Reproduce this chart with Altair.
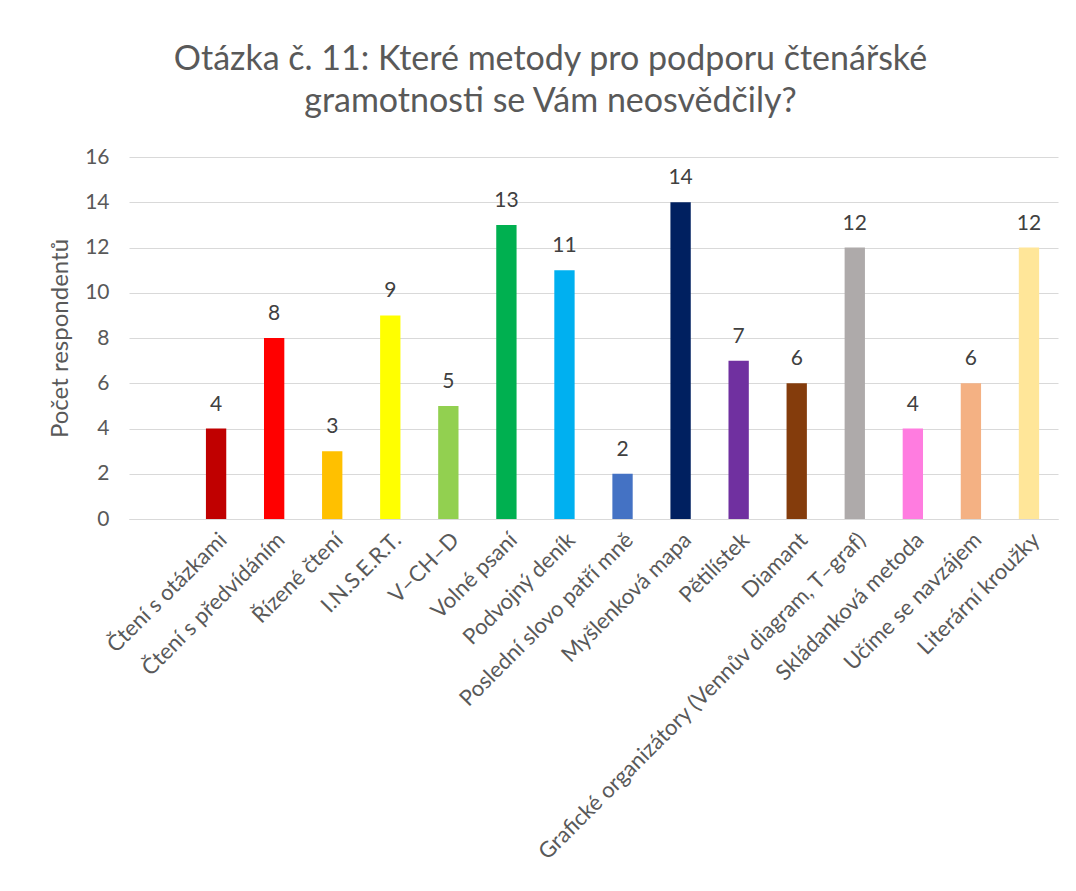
import altair as alt
import pandas as pd

categories = [" ", "Čtení s otázkami", "Čtení s předvídáním", "Řízené čtení", "I.N.S.E.R.T.",
              "V–CH–D", "Volné psaní", "Podvojný deník", "Poslední slovo patří mně",
              "Myšlenková mapa", "Pětilístek", "Diamant",
              "Grafické organizátory (Vennův diagram, T–graf)", "Skládanková metoda",
              "Učíme se navzájem", "Literární kroužky"]
values = [None, 4, 8, 3, 9, 5, 13, 11, 2, 14, 7, 6, 12, 4, 6, 12]
colors = ["#FFFFFF", "#C00000", "#FF0000", "#FFC000", "#FFFF00", "#92D050", "#00B050", "#00B0F0",
          "#4472C4", "#002060", "#7030A0", "#843C0C", "#AEAAAA", "#FF7CE0", "#F4B183", "#FFE699"]

df = pd.DataFrame({"cat": categories, "val": values, "col": colors})

FONT = "Lato"
TXT = "#595959"

xscale = alt.Scale(domain=categories, paddingInner=0.65, paddingOuter=0.325)
x = alt.X("cat:N", sort=categories, title=None, scale=xscale,
          axis=alt.Axis(labelAngle=-45, labelFontSize=22, labelColor=TXT, labelFont=FONT,
                        ticks=False, domainColor="#D9D9D9", labelPadding=10,
                        labelAlign="right", labelBaseline="top", labelLimit=700))
y = alt.Y("val:Q", title="Počet respondentů",
          scale=alt.Scale(domain=[0, 16]),
          axis=alt.Axis(values=list(range(0, 17, 2)), ticks=False, domain=False,
                        gridColor="#D9D9D9", labelFontSize=21, labelColor=TXT, labelFont=FONT,
                        labelPadding=20, titleFontSize=24, titleColor=TXT, titleFont=FONT,
                        titleFontWeight="normal", titlePadding=12))

bars = alt.Chart(df).mark_bar().encode(
    x=x, y=y, color=alt.Color("col:N", scale=None)
).transform_filter("datum.val != null")

labels = alt.Chart(df).mark_text(baseline="bottom", dy=-14, fontSize=21, color="#404040", font=FONT).encode(
    x=alt.X("cat:N", sort=categories, scale=xscale),
    y="val:Q",
    text="val:Q"
).transform_filter("datum.val != null")

chart = (bars + labels).properties(
    width=929, height=362,
    autosize=alt.AutoSizeParams(type="none"),
    padding={"left": 121, "top": 149, "right": 10, "bottom": 360},
    title=alt.TitleParams(
        text=["Otázka č. 11: Které metody pro podporu čtenářské", "gramotnosti se Vám neosvědčily?"],
        fontSize=34, font=FONT, color=TXT, fontWeight="normal", anchor="middle",
        frame="group", dx=-43, offset=27, lineHeight=42),
).configure_view(stroke=None)

chart.save("out.html", embed_options={"renderer": "svg", "actions": False})
